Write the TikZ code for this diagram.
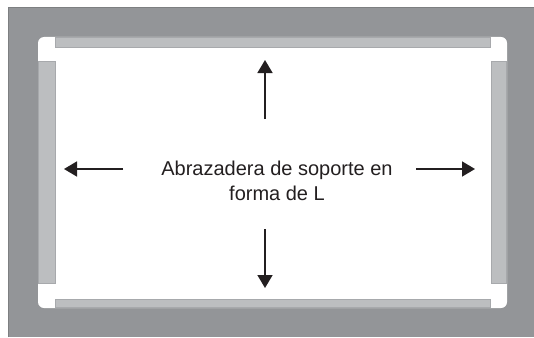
\documentclass[tikz,border=0pt]{standalone}
\usepackage{fontspec}
\setmainfont{Liberation Sans}
\usetikzlibrary{arrows.meta}
\definecolor{frame}{HTML}{939598}
\definecolor{bar}{HTML}{BCBEC0}
\definecolor{barline}{HTML}{A7A9AC}
\definecolor{ink}{HTML}{231F20}
\begin{document}
\begin{tikzpicture}[x=1pt,y=-1pt,
  barstyle/.style={fill=bar,draw=barline,line width=0.6pt},
  arr/.style={draw=ink,line width=1.6pt,-{Triangle[length=13pt,width=15pt]}},
  lbl/.style={text=ink,font=\fontsize{20}{25}\selectfont,align=center}]
\useasboundingbox (0,0) rectangle (534,337);
\fill[white] (0,0) rectangle (534,337);
% outer frame
\fill[frame] (8,7) rectangle (534,337);
\draw[frame!85!black,line width=0.5pt] (8.25,337) -- (8.25,7.25) -- (534,7.25);
% inner white opening
\fill[white,rounded corners=6pt] (38,37) rectangle (507,308);
% L-bracket bars
\draw[barstyle] (55,37.3) rectangle (490.5,47);
\draw[barstyle] (55,299) rectangle (490.5,307.7);
\draw[barstyle] (38.3,61) rectangle (55,283);
\draw[barstyle] (491,61) rectangle (506.7,283);
% label
\node[lbl] (t) at (277,181) {Abrazadera de soporte en\\forma de L};
% arrows
\coordinate (ut) at (265,119);
\coordinate (uh) at (265,60);
\coordinate (dt) at (265,229);
\coordinate (dh) at (265,288);
\coordinate (lt) at (123,169);
\coordinate (lh) at (64,169);
\coordinate (rt) at (416,169);
\coordinate (rh) at (475,169);
\draw[arr] (ut) -- (uh);
\draw[arr] (dt) -- (dh);
\draw[arr] (lt) -- (lh);
\draw[arr] (rt) -- (rh);
\end{tikzpicture}
\end{document}
